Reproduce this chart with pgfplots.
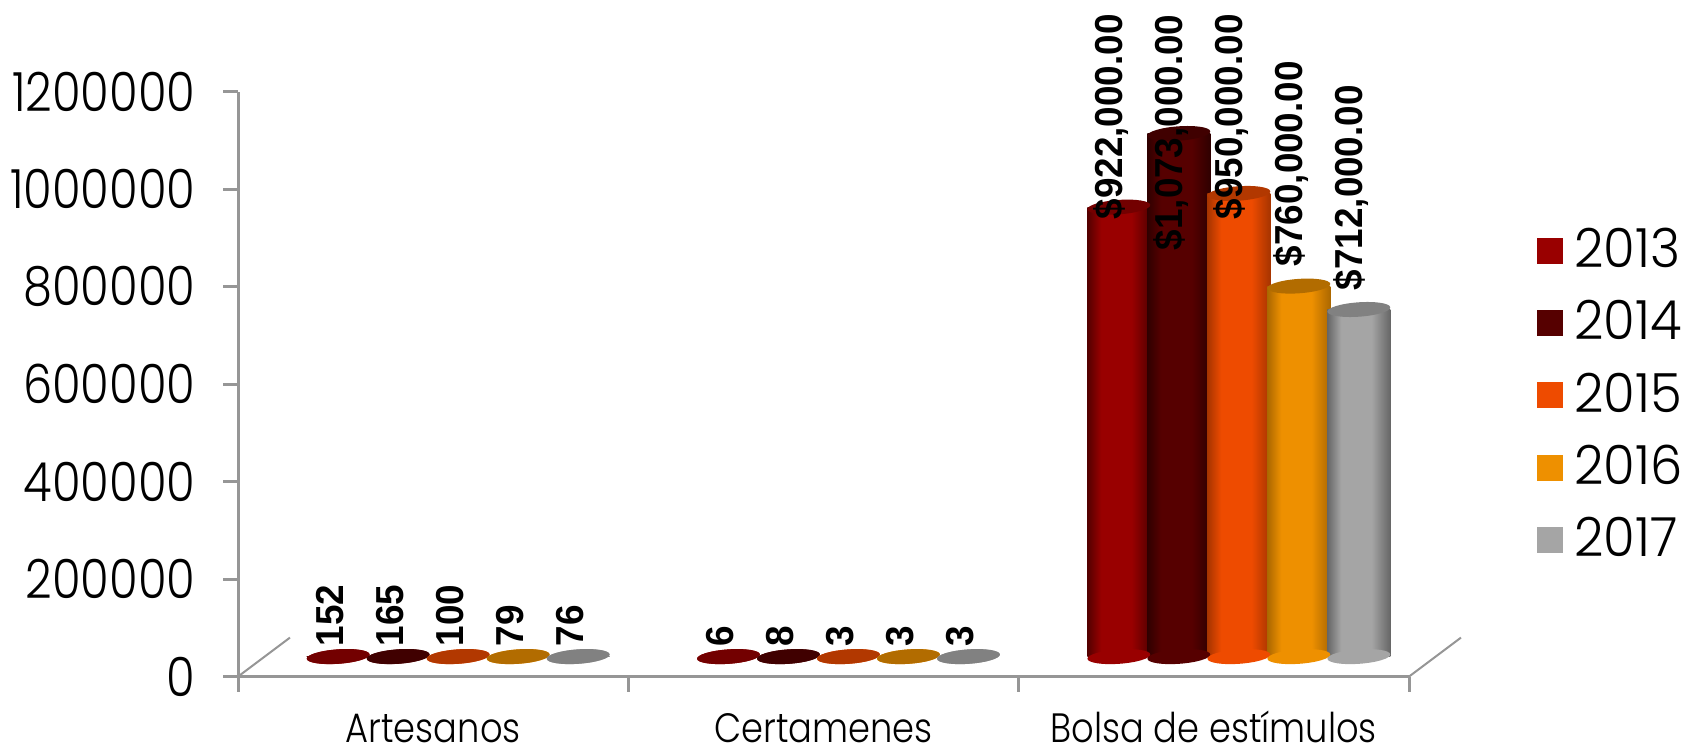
\documentclass[border=0pt]{standalone}
\usepackage{fontspec}
\usepackage{pgfplots}
\usepackage{pgfplotstable}
\pgfplotsset{compat=1.18}
\setmainfont{Poppins}[UprightFont=* Light, FakeStretch=0.86]
\newfontfamily\legfont{Poppins}[UprightFont=* Light, FakeStretch=0.95]
\newfontfamily\lblfont{Liberation Sans Bold}[FakeStretch=0.945]

\definecolor{axisgray}{HTML}{969696}
\definecolor{cA}{HTML}{990000}
\definecolor{cB}{HTML}{560000}
\definecolor{cC}{HTML}{EE4B00}
\definecolor{cD}{HTML}{EE9000}
\definecolor{cE}{HTML}{A5A5A5}

% x = category centre, v = value, ly = where the rotated label starts
\pgfplotstableread{
x v ly lab
0.5 152 61500 152
1.5 6 61500 6
2.5 922000 937400 \$922,000.00
}\tableA
\pgfplotstableread{
x v ly lab
0.5 165 61500 165
1.5 8 61500 8
2.5 1073000 873800 \$1,073,000.00
}\tableB
\pgfplotstableread{
x v ly lab
0.5 100 61500 100
1.5 3 61500 3
2.5 950000 937400 \$950,000.00
}\tableC
\pgfplotstableread{
x v ly lab
0.5 79 61500 79
1.5 3 61500 3
2.5 760000 841000 \$760,000.00
}\tableD
\pgfplotstableread{
x v ly lab
0.5 76 61500 76
1.5 3 61500 3
2.5 712000 791800 \$712,000.00
}\tableE

% cylinder sides: the middle 50bp of a shading is what shows
\newcommand{\declareside}[3]{\pgfdeclarehorizontalshading{cyl#1}{100bp}{color(0bp)=(#2); color(25bp)=(#2); color(36bp)=(#3); color(60bp)=(#3); color(75bp)=(#2); color(100bp)=(#2)}}
\declareside{A}{cA!55!black}{cA}
\declareside{B}{cB!55!black}{cB}
\declareside{C}{cC!70!black}{cC}
\declareside{D}{cD!72!black}{cD}
\declareside{E}{cE!62!black}{cE}

\pgfdeclareplotmark{cap}{\pgftransformrotate{4}\pgfpathellipse{\pgfpointorigin}{\pgfqpoint{15.75pt}{0pt}}{\pgfqpoint{0pt}{3.6pt}}\pgfusepathqfill}

% a ybar plot fills all its bars as one path, so each group gets its own plot
% or the shading would run across the whole axis
% #1 letter, #2 bar shift, #3 table, #4 top colour
\newcommand{\cylinder}[4]{%
  \addplot[forget plot, only marks, mark=cap, color=c#1, xshift=#2, yshift=10pt]
    table[x=x, y expr=0] {#3};
  \addplot[forget plot, ybar, bar width=31.5pt, bar shift=#2, yshift=10pt, draw=none,
    shade, shading=cyl#1, restrict x to domain=0:1]
    table[x=x, y=v] {#3};
  \addplot[forget plot, ybar, bar width=31.5pt, bar shift=#2, yshift=10pt, draw=none,
    shade, shading=cyl#1, restrict x to domain=1:2]
    table[x=x, y=v] {#3};
  \addplot[ybar, bar width=31.5pt, bar shift=#2, yshift=10pt, draw=none,
    shade, shading=cyl#1, restrict x to domain=2:3,
    legend image code/.code={\path (0pt,0pt) -- (16.5pt,0pt);
      \node[fill=c#1, inner sep=0pt, minimum size=13pt, anchor=center] at (6.5pt,-10.7pt) {};}]
    table[x=x, y=v] {#3};
  \addplot[forget plot, only marks, mark=cap, color=#4, xshift=#2, yshift=10pt]
    table[x=x, y=v] {#3};
}

\begin{document}
\begin{tikzpicture}[x=1pt, y=1pt]
\useasboundingbox (0,0) rectangle (843,375.3);
\begin{axis}[
    at={(119pt,37pt)}, anchor=origin,
    scale only axis,
    width=585.5pt, height=292.5pt,
    xmin=0, xmax=3,
    ymin=0, ymax=1200000,
    clip=false,
    axis x line=bottom, axis y line=left,
    axis line style={axisgray, line width=1.5pt, -},
    xtick={0,1,2,3},
    x tick label as interval,
    xticklabels={Artesanos, Certamenes, Bolsa de estímulos},
    ytick={0,200000,400000,600000,800000,1000000,1200000},
    scaled y ticks=false,
    tick style={axisgray, line width=1.5pt},
    major tick length=7.5pt,
    tick align=outside,
    y tick label style={font=\fontsize{27}{27}\selectfont, xshift=-10.3pt,
        /pgf/number format/fixed, /pgf/number format/precision=0,
        /pgf/number format/1000 sep={}, /pgf/number format/assume math mode=true},
    x tick label style={font=\fontsize{20.5}{21}\selectfont, yshift=-10pt,
        inner sep=0pt, text height=15pt, text depth=0pt},
    legend style={at={(rel axis cs:1,1)}, anchor=north west, xshift=64pt, yshift=-66pt,
        draw=none, fill=none, font=\fontsize{27}{27}\legfont, row sep=11pt, inner sep=0pt},
    legend cell align=left,
]
\cylinder{A}{-47.5pt}{\tableA}{cA!75!black}
\addlegendentry{2013}
\cylinder{B}{-17.5pt}{\tableB}{cB!75!black}
\addlegendentry{2014}
\cylinder{C}{12.5pt}{\tableC}{cC!75!black}
\addlegendentry{2015}
\cylinder{D}{42.5pt}{\tableD}{cD!75!black}
\addlegendentry{2016}
\cylinder{E}{72.5pt}{\tableE}{cE!78!black}
\addlegendentry{2017}

% data labels, all after the bars so they sit on top
\pgfplotsset{lbl/.style={forget plot, only marks, mark=none, point meta=explicit symbolic,
    nodes near coords,
    nodes near coords style={rotate=90, anchor=west, inner sep=0pt, text=black,
        font=\fontsize{19.5}{19.5}\lblfont}}}
\addplot[lbl, xshift=-51.5pt] table[x=x, y=ly, meta=lab] {\tableA};
\addplot[lbl, xshift=-21.5pt] table[x=x, y=ly, meta=lab] {\tableB};
\addplot[lbl, xshift=8.5pt] table[x=x, y=ly, meta=lab] {\tableC};
\addplot[lbl, xshift=38.5pt] table[x=x, y=ly, meta=lab] {\tableD};
\addplot[lbl, xshift=68.5pt] table[x=x, y=ly, meta=lab] {\tableE};

% floor edges of the 3D box
\draw[axisgray, line width=1pt] (axis cs:0,0) -- ++(26pt,19.5pt);
\draw[axisgray, line width=1pt] (axis cs:3,0) -- ++(26pt,19.5pt);
\end{axis}
\end{tikzpicture}
\end{document}
